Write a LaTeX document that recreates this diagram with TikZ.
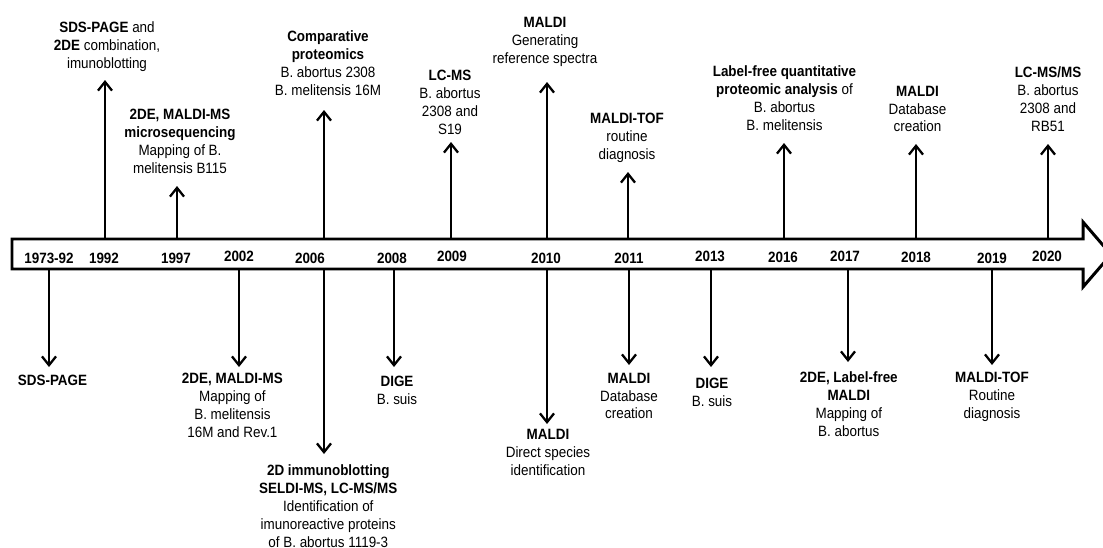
\documentclass[tikz,border=0pt]{standalone}
\usepackage{fontspec}
\setmainfont{Liberation Sans}[FakeStretch=0.9]
\usetikzlibrary{arrows.meta}

\begin{document}
\begin{tikzpicture}[x=0.02cm, y=-0.02cm,
yearnode/.style={font=\bfseries\fontsize{8.5}{10.2}\selectfont, inner sep=0pt},
eventnode/.style={align=center, font=\fontsize{8.5}{10.2}\selectfont, inner sep=0pt},
eventline/.style={line width=1.3pt, -{Straight Barb[length=5pt,width=8pt]}},
]
\useasboundingbox (0,0) rectangle (1103,548);

%Timeline
\draw[line width=1.7pt, line join=miter] (12,239) -- (1083,239) -- (1083,222) -- (1111,254.5)
  -- (1083,287) -- (1083,269) -- (12,269) -- cycle;
\coordinate (bartop) at (0,239);
\coordinate (barbot) at (0,269);

%Years
\node[yearnode] (y1973) at (49,258)    {1973-92};
\node[yearnode] (y1992) at (104,258)   {1992};
\node[yearnode] (y1997) at (176,258)   {1997};
\node[yearnode] (y2002) at (239,256.5) {2002};
\node[yearnode] (y2006) at (310,258)   {2006};
\node[yearnode] (y2008) at (392,258.5) {2008};
\node[yearnode] (y2009) at (452,256.5) {2009};
\node[yearnode] (y2010) at (546,258)   {2010};
\node[yearnode] (y2011) at (629,258)   {2011};
\node[yearnode] (y2013) at (710,256.5) {2013};
\node[yearnode] (y2016) at (783,257.5) {2016};
\node[yearnode] (y2017) at (845,256.5) {2017};
\node[yearnode] (y2018) at (916,257.5) {2018};
\node[yearnode] (y2019) at (992,258.5) {2019};
\node[yearnode] (y2020) at (1047,256.5) {2020};

%Events above
\node[eventnode] (u1992) at (107,46.5) {\textbf{SDS-PAGE} and\\\textbf{2DE} combination,\\imunoblotting};
\node[eventnode] (u1997) at (180,141)  {\textbf{2DE, MALDI-MS}\\\textbf{microsequencing}\\Mapping of B.\\melitensis B115};
\node[eventnode] (u2006) at (328,63)   {\textbf{Comparative}\\\textbf{proteomics}\\B. abortus 2308\\B. melitensis 16M};
\node[eventnode] (u2009) at (450,102.5) {\textbf{LC-MS}\\B. abortus\\2308 and\\S19};
\node[eventnode] (u2010) at (545,41.5) {\textbf{MALDI}\\Generating\\reference spectra};
\node[eventnode] (u2011) at (627,138)  {\textbf{MALDI-TOF}\\routine\\diagnosis};
\node[eventnode] (u2016) at (784.5,98) {\textbf{Label-free quantitative}\\\textbf{proteomic analysis} of\\B. abortus\\B. melitensis};
\node[eventnode] (u2018) at (917.5,109) {\textbf{MALDI}\\Database\\creation};
\node[eventnode] (u2020) at (1048,99)  {\textbf{LC-MS/MS}\\B. abortus\\2308 and\\RB51};

%Events below
\node[eventnode] (d1973) at (52.5,380) {\textbf{SDS-PAGE}};
\node[eventnode] (d2002) at (232.4,405.4) {\textbf{2DE, MALDI-MS}\\Mapping of\\B. melitensis\\16M and Rev.1};
\node[eventnode] (d2006) at (328.3,506) {\textbf{2D immunoblotting}\\\textbf{SELDI-MS, LC-MS/MS}\\Identification of\\imunoreactive proteins\\of B. abortus 1119-3};
\node[eventnode] (d2008) at (397,390.4) {\textbf{DIGE}\\B. suis};
\node[eventnode] (d2010) at (548,452.5) {\textbf{MALDI}\\Direct species\\identification};
\node[eventnode] (d2011) at (629,396)  {\textbf{MALDI}\\Database\\creation};
\node[eventnode] (d2013) at (712,392.5) {\textbf{DIGE}\\B. suis};
\node[eventnode] (d2017) at (848.8,404.5) {\textbf{2DE, Label-free}\\\textbf{MALDI}\\Mapping of\\B. abortus};
\node[eventnode] (d2019) at (992,397)  {\textbf{MALDI-TOF}\\Routine\\diagnosis};

%Arrow ends
\coordinate (t1992) at (105,80);
\coordinate (t1997) at (177,186);
\coordinate (t2006) at (324,110);
\coordinate (t2009) at (451,142);
\coordinate (t2010) at (547,82);
\coordinate (t2011) at (628,172);
\coordinate (t2016) at (784,143);
\coordinate (t2018) at (916,144);
\coordinate (t2020) at (1048,144);

\coordinate (b1973) at (49,367);
\coordinate (b2002) at (239,367);
\coordinate (b2006) at (324,454);
\coordinate (b2008) at (394,367);
\coordinate (b2010) at (547,424);
\coordinate (b2011) at (629,365);
\coordinate (b2013) at (711,367);
\coordinate (b2017) at (848,362);
\coordinate (b2019) at (992,365);

%Lines
\draw[eventline] (t1992 |- bartop) -- (t1992);
\draw[eventline] (t1997 |- bartop) -- (t1997);
\draw[eventline] (t2006 |- bartop) -- (t2006);
\draw[eventline] (t2009 |- bartop) -- (t2009);
\draw[eventline] (t2010 |- bartop) -- (t2010);
\draw[eventline] (t2011 |- bartop) -- (t2011);
\draw[eventline] (t2016 |- bartop) -- (t2016);
\draw[eventline] (t2018 |- bartop) -- (t2018);
\draw[eventline] (t2020 |- bartop) -- (t2020);

\draw[eventline] (b1973 |- barbot) -- (b1973);
\draw[eventline] (b2002 |- barbot) -- (b2002);
\draw[eventline] (b2006 |- barbot) -- (b2006);
\draw[eventline] (b2008 |- barbot) -- (b2008);
\draw[eventline] (b2010 |- barbot) -- (b2010);
\draw[eventline] (b2011 |- barbot) -- (b2011);
\draw[eventline] (b2013 |- barbot) -- (b2013);
\draw[eventline] (b2017 |- barbot) -- (b2017);
\draw[eventline] (b2019 |- barbot) -- (b2019);

\end{tikzpicture}
\end{document}
